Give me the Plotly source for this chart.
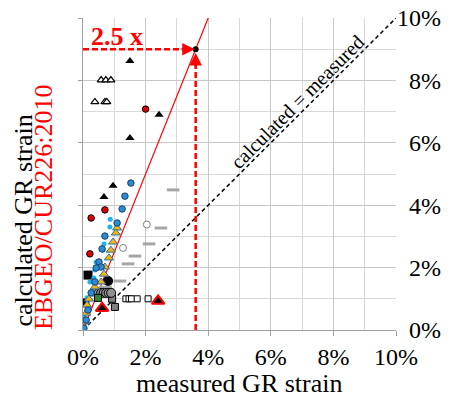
import plotly.graph_objects as go

# ---------------- data (percent strain) ----------------
tick_vals = [0, 2, 4, 6, 8, 10]
tick_text = ["0%", "2%", "4%", "6%", "8%", "10%"]

ratio = 2.5          # calculated / measured factor
meas_pt = 3.6        # measured strain at the highlighted point
calc_pt = ratio * meas_pt

blk_tri_x = [1.50, 2.43, 1.50, 0.96, 0.67]
blk_tri_y = [8.62, 6.90, 6.15, 4.62, 4.26]

open_tri_x = [0.58, 0.73, 0.89, 0.38, 0.70, 0.76]
open_tri_y = [8.01, 8.01, 8.01, 7.31, 7.31, 7.31]

red_circ_x = [2.00, 0.70, 0.26, 0.22]
red_circ_y = [7.08, 3.85, 3.59, 2.44]

blue_x = [1.53, 1.34, 1.25, 1.09, 0.70, 0.61, 0.51, 0.58, 0.42, 0.38, 0.26, 0.16, 0.10, 0.03]
blue_y = [4.71, 4.29, 3.88, 3.43, 3.01, 2.60, 2.18, 2.02, 1.99, 1.54, 1.19, 0.64, 0.32, 0.06]

cyan_x = [0.87, 0.86, 0.67, 0.64, 0.42, 0.38, 0.35, 0.22, 0.26, 0.13, 0.13, 0.03]
cyan_y = [3.55, 3.30, 2.76, 2.56, 2.18, 1.92, 1.67, 1.54, 1.22, 1.03, 0.74, 0.42]

gold_x = [1.09, 1.05, 0.96, 0.89, 0.83, 0.70, 0.67, 0.58, 0.38, 0.19, 0.13, 0.10, 0.06]
gold_y = [3.27, 3.11, 2.82, 2.56, 2.31, 2.02, 1.79, 1.54, 1.38, 0.99, 0.80, 0.54, 0.26]

dash_x = [2.88, 2.49, 2.11, 1.66, 1.44, 1.18, 0.72]
dash_y = [4.49, 3.27, 2.76, 2.37, 2.12, 1.57, 1.37]

open_circ_x = [2.04, 1.28, 0.32]
open_circ_y = [3.38, 2.63, 1.19]

blk_sq_x = [0.16, 0.06]
blk_sq_y = [1.76, 0.87]

blk_circ_x = [0.80]
blk_circ_y = [1.57]

grey_circ_x = [0.50, 0.58, 0.66, 0.74, 0.82, 0.90]
grey_circ_y = [1.19, 1.19, 1.19, 1.19, 1.19, 1.19]

green_sq_x = [0.48]
green_sq_y = [1.03]

grey_sq_x = [0.93, 1.02]
grey_sq_y = [1.00, 0.74]

open_sq_x = [1.37, 1.47, 1.55, 1.73, 2.08]
open_sq_y = [1.00, 1.00, 1.00, 1.00, 1.00]

red_tri_x = [2.40, 0.61]
red_tri_y = [0.93, 0.70]

# ---------------- figure ----------------
FONT = "Liberation Serif"
fig = go.Figure()

# 1:1 line
fig.add_trace(go.Scatter(x=[0, 10], y=[0, 10], mode="lines",
                         line=dict(color="black", width=1.5, dash="4px,3px"),
                         hoverinfo="skip"))
# 2.5x line
fig.add_trace(go.Scatter(x=[0, 10 / ratio], y=[0, 10], mode="lines",
                         line=dict(color="red", width=1.2), hoverinfo="skip"))
# dashed arrow lines
fig.add_trace(go.Scatter(x=[0, meas_pt - 0.25], y=[calc_pt, calc_pt], mode="lines",
                         line=dict(color="red", width=2.5, dash="6px,3px"), hoverinfo="skip"))
fig.add_trace(go.Scatter(x=[meas_pt, meas_pt], y=[0, calc_pt - 0.35], mode="lines",
                         line=dict(color="red", width=2.5, dash="6px,3px"), hoverinfo="skip"))

def sc(x, y, symbol, size, color, lcolor=None, lwidth=0):
    fig.add_trace(go.Scatter(
        x=x, y=y, mode="markers",
        marker=dict(symbol=symbol, size=size, color=color,
                    line=dict(color=lcolor or color, width=lwidth))))

sc(dash_x, dash_y, "line-ew", 9, "#a6a6a6", "#a6a6a6", 3)
sc(open_circ_x, open_circ_y, "circle", 7, "white", "#808080", 1)
sc(open_sq_x, open_sq_y, "square", 6, "white", "black", 1)
sc(grey_sq_x, grey_sq_y, "square", 7, "#808080", "black", 1)
sc(grey_circ_x, grey_circ_y, "circle", 9, "#909090", "black", 1)
sc(green_sq_x, green_sq_y, "square", 7, "#2e8b2e", "black", 1)
sc(blk_circ_x, blk_circ_y, "circle", 10, "black")
sc(blk_sq_x, blk_sq_y, "square", 9, "black")
sc(cyan_x, cyan_y, "circle", 5, "#1cb4f0")
sc(gold_x, gold_y, "triangle-up", 8, "#f5b700", "#2a6fb0", 1)
sc(blue_x, blue_y, "circle", 6.5, "#2b8cd0", "#1a3f70", 1)
sc(red_circ_x, red_circ_y, "circle", 6.5, "#e00000", "black", 1)
sc(open_tri_x, open_tri_y, "triangle-up", 7, "white", "black", 1.2)
sc(blk_tri_x, blk_tri_y, "triangle-up", 8, "black")
sc(red_tri_x, red_tri_y, "triangle-up", 11, "black", "red", 2)
sc([meas_pt], [calc_pt], "circle", 6, "black")

# a dummy trace on the label axis so it renders
fig.add_trace(go.Scatter(x=[0], y=[0], yaxis="y2", mode="markers",
                         marker=dict(size=1, opacity=0), hoverinfo="skip"))

# arrow heads
fig.add_annotation(x=meas_pt - 0.03, y=calc_pt, ax=meas_pt - 0.5, ay=calc_pt,
                   xref="x", yref="y", axref="x", ayref="y", text="",
                   showarrow=True, arrowhead=2, arrowsize=1, arrowwidth=2.5, arrowcolor="red")
fig.add_annotation(x=meas_pt, y=calc_pt - 0.12, ax=meas_pt, ay=calc_pt - 0.6,
                   xref="x", yref="y", axref="x", ayref="y", text="",
                   showarrow=True, arrowhead=2, arrowsize=1, arrowwidth=2.5, arrowcolor="red")

fig.add_annotation(x=1.09, y=9.42, xref="x", yref="y", text="<b>2.5 x</b>",
                   showarrow=False, font=dict(family=FONT, size=26, color="red"))
fig.add_annotation(x=6.84, y=7.31, xref="x", yref="y", text="calculated = measured",
                   textangle=-45, showarrow=False, font=dict(family=FONT, size=20, color="black"))

# axis titles
fig.add_annotation(x=5, y=0, xref="x", yref="paper", yshift=-53, yanchor="middle",
                   text="measured GR strain", showarrow=False,
                   font=dict(family=FONT, size=26, color="black"))
fig.add_annotation(x=0, y=0.349, xref="paper", yref="paper", xshift=-75, xanchor="left",
                   yanchor="middle", text="calculated GR strain", textangle=-90, showarrow=False,
                   font=dict(family=FONT, size=26, color="black"), borderpad=0)
fig.add_annotation(x=0, y=0.394, xref="paper", yref="paper", xshift=-40, xanchor="center",
                   yanchor="middle", text="EBGEO/CUR226:2010", textangle=-90, showarrow=False,
                   font=dict(family=FONT, size=26, color="red"))

# page body adds an 8px offset; compensate
W, H = 457, 394
ml, mr, mt, mb = 75, 24, 10, 72
plot_w = 313
dom = plot_w / (W - ml - mr)

fig.update_layout(
    width=W, height=H,
    margin=dict(l=ml, r=mr, t=mt, b=mb, autoexpand=False),
    paper_bgcolor="white", plot_bgcolor="white",
    showlegend=False,
    font=dict(family=FONT, size=24, color="black"),
    xaxis=dict(domain=[0, dom], range=[0, 10], tickvals=tick_vals, ticktext=tick_text,
               showgrid=True, gridcolor="#c8c8c8", gridwidth=1,
               minor=dict(dtick=1, showgrid=True, gridcolor="#d9d9d9", gridwidth=1),
               showline=True, linecolor="#a0a0a0", linewidth=1,
               ticks="outside", ticklen=5, tickcolor="#a0a0a0",
               zeroline=False, fixedrange=True, automargin=False, ticklabeloverflow="allow",
               tickfont=dict(family=FONT, size=24, color="black")),
    yaxis=dict(range=[0, 10], tickvals=tick_vals, showticklabels=False,
               showgrid=True, gridcolor="#c8c8c8", gridwidth=1,
               minor=dict(dtick=1, showgrid=True, gridcolor="#d9d9d9", gridwidth=1),
               showline=True, linecolor="#a0a0a0", linewidth=1,
               ticks="outside", ticklen=4, tickcolor="#a0a0a0",
               zeroline=False, fixedrange=True, automargin=False),
    yaxis2=dict(range=[0, 10], overlaying="y", anchor="free", position=1, side="left",
                tickvals=tick_vals, ticktext=tick_text, showgrid=False, showline=False,
                zeroline=False, ticks="", fixedrange=True, automargin=False,
                ticklabeloverflow="allow",
                tickfont=dict(family=FONT, size=24, color="black")),
)

fig.write_html("out.html")
